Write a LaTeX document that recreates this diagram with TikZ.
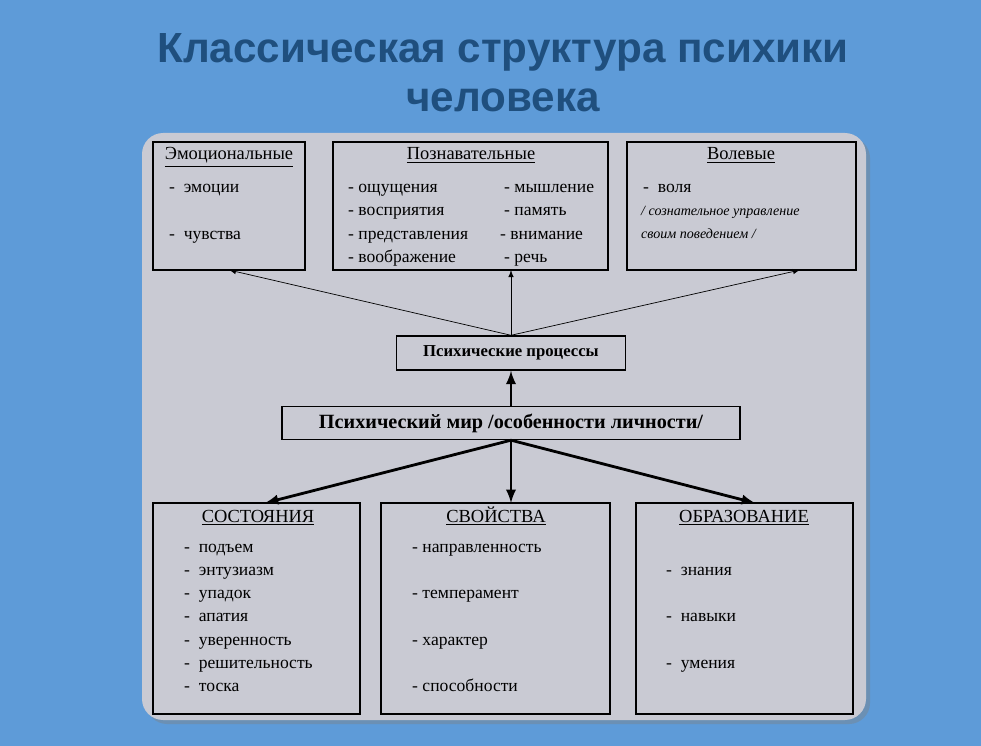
\documentclass[tikz,border=0pt]{standalone}
\usepackage{fontspec}
\setmainfont{Liberation Serif}
\newfontfamily\titlefont{Liberation Sans}
\usetikzlibrary{shadows}

\definecolor{bgblue}{HTML}{5E9BD8}
\definecolor{titleblue}{HTML}{1F4F7E}
\definecolor{panelgrey}{HTML}{C9CAD3}

\tikzset{
  box/.style={draw, thick, fill=panelgrey},
  head/.style={font=\fontsize{10.5}{11}\selectfont, anchor=base},
  item/.style={font=\fontsize{10}{11}\selectfont, anchor=base west},
  note/.style={font=\fontsize{8}{9}\selectfont\itshape, anchor=base west},
  thin arrow/.style={-latex, thin},
  thick arrow/.style={-latex, line width=1.6pt}
}

\begin{document}
\begin{tikzpicture}[x=0.02cm, y=-0.02cm]
\fill[bgblue] (0,0) rectangle (981,746);
\node[font=\titlefont\bfseries\fontsize{24}{28}\selectfont, text=titleblue, align=center] (title) at (503,73) {Классическая структура психики\\человека};
\fill[panelgrey, rounded corners=12pt, drop shadow={opacity=0.4}] (142,133) rectangle (866,720);

% upper boxes
\draw[box] (153,142) rectangle (305,270);
\coordinate (emo) at (229,270);
\draw[box] (333,142) rectangle (608,270);
\coordinate (pozn) at (511,270);
\draw[box] (627,142) rectangle (856,270);
\coordinate (vol) at (800,270);
\node[head] (emoh) at (229,160) {\underline{Эмоциональные}};
\node[item] (e1) at (163,193) {-\enspace эмоции};
\node[item] (e2) at (163,240) {-\enspace чувства};
\node[head] (poznh) at (471,160) {\underline{Познавательные}};
\node[item] (p1) at (342,193) {- ощущения};
\node[item] (p2) at (342,216) {- восприятия};
\node[item] (p3) at (342,240) {- представления};
\node[item] (p4) at (342,263) {- воображение};
\node[item] (p5) at (498,193) {- мышление};
\node[item] (p6) at (498,216) {- память};
\node[item] (p7) at (494,240) {- внимание};
\node[item] (p8) at (498,263) {- речь};
\node[head] (volh) at (741,160) {\underline{Волевые}};
\node[item] (v1) at (637,193) {-\enspace воля};
\node[note] (v2) at (635,216) {/ сознательное управление};
\node[note] (v3) at (635,239) {своим поведением /};

% middle
\node[draw, thick, fill=panelgrey, minimum width=229*0.02cm, minimum height=34*0.02cm, font=\bfseries\fontsize{9.5}{10}\selectfont] (proc) at (511,353) {Психические процессы};
\node[draw, thick, fill=panelgrey, minimum width=458*0.02cm, minimum height=33*0.02cm, font=\bfseries\fontsize{11.5}{12}\selectfont] (mir) at (511,423) {Психический мир /особенности личности/};
\draw[thin arrow] (proc.north) -- (emo);
\draw[thin arrow] (proc.north) -- (pozn);
\draw[thin arrow] (proc.north) -- (vol);
\draw[thick arrow] (mir.north) -- (proc.south);

% lower boxes
\draw[box] (153,503) rectangle (360,714);
\coordinate (sost) at (265,503);
\draw[box] (381,503) rectangle (610,714);
\coordinate (svoi) at (511,503);
\draw[box] (636,503) rectangle (853,714);
\coordinate (obr) at (755,503);
\draw[thick arrow] (mir.south) -- (sost);
\draw[thick arrow] (mir.south) -- (svoi);
\draw[thick arrow] (mir.south) -- (obr);
\node[head] (sosth) at (258,522) {\underline{СОСТОЯНИЯ}};
\foreach \t [count=\i] in {подъем, энтузиазм, упадок, апатия, уверенность, решительность, тоска}
  \node[item] (s\i) at (178,{530+23*\i}) {-\enspace\t};
\node[head] (svoih) at (496,522) {\underline{СВОЙСТВА}};
\node[item] (c1) at (406,553) {- направленность};
\node[item] (c2) at (406,599) {- темперамент};
\node[item] (c3) at (406,645) {- характер};
\node[item] (c4) at (406,691) {- способности};
\node[head] (obrh) at (744,522) {\underline{ОБРАЗОВАНИЕ}};
\node[item] (o1) at (660,576) {-\enspace знания};
\node[item] (o2) at (660,622) {-\enspace навыки};
\node[item] (o3) at (660,668) {-\enspace умения};
\end{tikzpicture}
\end{document}
